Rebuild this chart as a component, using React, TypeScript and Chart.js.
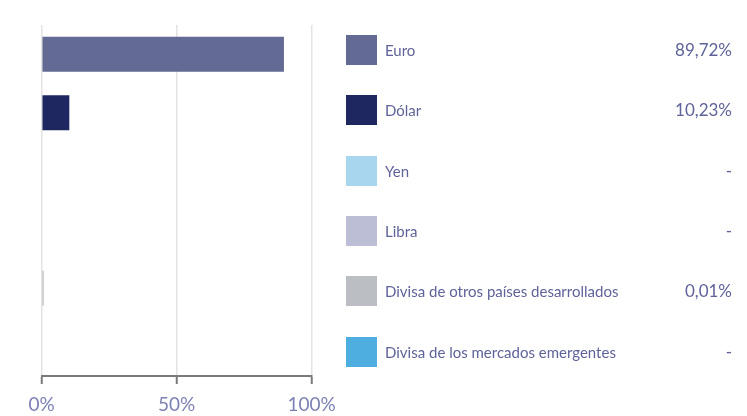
import React, { useEffect, useRef } from "react";
import { Chart, registerables } from "chart.js";

Chart.register(...registerables);

const categories = [
  "Euro",
  "Dólar",
  "Yen",
  "Libra",
  "Divisa de otros países desarrollados",
  "Divisa de los mercados emergentes",
];
const values: (number | null)[] = [89.72, 10.23, null, null, 0.01, null];
const valueLabels = ["89,72%", "10,23%", "-", "-", "0,01%", "-"];
const colors = ["#636a94", "#1f2761", "#a8d6ef", "#bbbed5", "#bbbec3", "#4eaee0"];
const xTicks = [0, 50, 100];

const FONT = "Lato, 'Open Sans', sans-serif";

export default function App() {
  const ref = useRef<HTMLCanvasElement | null>(null);
  useEffect(() => {
    document.body.style.margin = "0";
    if (!ref.current) return;
    const chart = new Chart(ref.current, {
      type: "bar",
      data: {
        labels: categories,
        datasets: [
          {
            data: values as any,
            backgroundColor: colors,
            barPercentage: 0.6,
            categoryPercentage: 1,
            minBarLength: 2,
            borderWidth: 0,
          },
        ],
      },
      options: {
        indexAxis: "y",
        animation: false,
        responsive: false,
        maintainAspectRatio: false,
        layout: { padding: { left: 41.7, right: 747 - 311.7, top: 25, bottom: 0 } },
        plugins: { legend: { display: false }, tooltip: { enabled: false } },
        scales: {
          y: { type: "category", display: false },
          x: {
            type: "linear",
            min: 0,
            max: 100,
            afterBuildTicks: (s: any) => {
              s.ticks = xTicks.map((v) => ({ value: v }));
            },
            afterFit: (s: any) => {
              s.height = 40;
            },
            grid: {
              color: "#e3e3e3",
              lineWidth: 1.5,
              tickColor: "#7a7a7a",
              tickLength: 8,
              tickWidth: 2,
            },
            border: { display: true, color: "#7a7a7a", width: 2 },
            ticks: {
              padding: 9,
              color: "#7d82b5",
              font: { family: FONT, size: 19 },
              callback: (v: any) => v + "%",
            },
          },
        },
      },
    });
    return () => chart.destroy();
  }, []);

  return (
    <div style={{ position: "relative", width: 747, height: 416, fontFamily: FONT }}>
      <canvas ref={ref} width={747} height={416} style={{ position: "absolute", left: 0, top: 0 }} />
      {categories.map((c, i) => {
        const cy = 50 + i * 60.3;
        return (
          <div key={c}>
            <div
              style={{
                position: "absolute",
                left: 346,
                top: cy - 15,
                width: 31,
                height: 30,
                background: colors[i],
              }}
            />
            <div
              style={{
                position: "absolute",
                left: 385,
                top: cy - 11,
                height: 22,
                lineHeight: "22px",
                fontSize: 15,
                color: "#5f6399",
                whiteSpace: "nowrap",
              }}
            >
              {c}
            </div>
            <div
              style={{
                position: "absolute",
                right: 747 - 732,
                top: cy - 12,
                height: 24,
                lineHeight: "24px",
                fontSize: 17,
                color: "#5f6399",
                whiteSpace: "nowrap",
              }}
            >
              {valueLabels[i]}
            </div>
          </div>
        );
      })}
    </div>
  );
}
